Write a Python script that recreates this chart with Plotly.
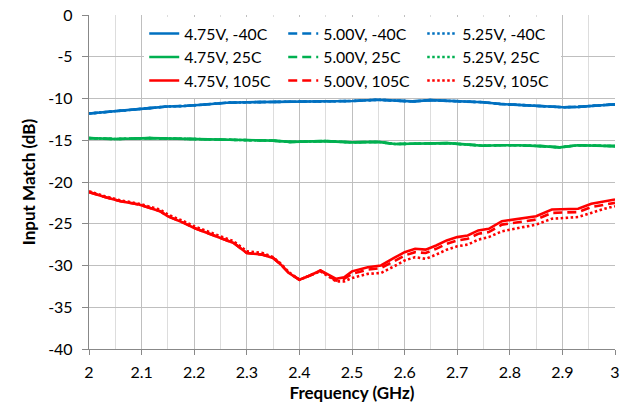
import plotly.graph_objects as go

# ---------------- data ----------------
freq_blue = [2.0, 2.04, 2.082, 2.115, 2.149, 2.18, 2.215, 2.262, 2.30, 2.349, 2.40, 2.449, 2.50, 2.549,
             2.58, 2.615, 2.649, 2.68, 2.715, 2.75, 2.782, 2.82, 2.849, 2.875, 2.902, 2.93, 2.949, 2.975, 3.0]
blue_db = [-11.8, -11.6, -11.35, -11.15, -10.95, -10.9, -10.75, -10.5, -10.45, -10.4, -10.4, -10.35, -10.3, -10.15,
           -10.25, -10.35, -10.2, -10.25, -10.35, -10.45, -10.65, -10.75, -10.85, -10.95, -11.05, -11.0, -10.95, -10.8, -10.7]

freq_green = [2.0, 2.05, 2.115, 2.15, 2.182, 2.25, 2.315, 2.35, 2.382, 2.449, 2.50, 2.55, 2.582, 2.63, 2.682,
              2.715, 2.749, 2.78, 2.815, 2.86, 2.895, 2.929, 2.96, 3.0]
green_db = [-14.75, -14.85, -14.75, -14.8, -14.85, -14.9, -15.0, -15.05, -15.2, -15.1, -15.25, -15.2, -15.45, -15.4,
            -15.35, -15.5, -15.65, -15.6, -15.6, -15.7, -15.85, -15.6, -15.65, -15.7]

freq_red = [2.00, 2.03, 2.06, 2.095, 2.135, 2.15, 2.18, 2.20, 2.25, 2.275, 2.30, 2.33, 2.35, 2.365, 2.38, 2.40,
            2.42, 2.44, 2.455, 2.47, 2.485, 2.50, 2.53, 2.555, 2.58, 2.60, 2.62, 2.64, 2.66, 2.68, 2.70, 2.72,
            2.74, 2.76, 2.785, 2.815, 2.85, 2.88, 2.93, 2.955, 2.98, 3.00]
red_475 = [-21.2, -21.8, -22.3, -22.7, -23.5, -24.1, -24.9, -25.5, -26.7, -27.3, -28.5, -28.7, -29.1, -29.9, -30.9, -31.7,
           -31.2, -30.6, -31.1, -31.6, -31.4, -30.7, -30.2, -30.0, -29.1, -28.4, -28.0, -28.1, -27.6, -27.0, -26.6, -26.4,
           -25.8, -25.6, -24.7, -24.4, -24.1, -23.3, -23.2, -22.6, -22.3, -22.1]
red_500 = [-21.2, -21.8, -22.3, -22.7, -23.5, -24.1, -24.9, -25.5, -26.7, -27.3, -28.5, -28.7, -29.1, -29.9, -30.9, -31.7,
           -31.2, -30.6, -31.2, -31.8, -31.6, -31.0, -30.5, -30.3, -29.5, -28.8, -28.4, -28.5, -28.0, -27.4, -27.0, -26.8,
           -26.2, -26.0, -25.1, -24.8, -24.5, -23.7, -23.6, -23.0, -22.7, -22.5]
red_525 = [-21.1, -21.7, -22.2, -22.6, -23.3, -23.9, -24.7, -25.3, -26.5, -27.1, -28.3, -28.5, -29.0, -29.8, -30.8, -31.7,
           -31.2, -30.7, -31.3, -31.9, -31.9, -31.5, -31.0, -30.9, -30.1, -29.4, -29.0, -29.2, -28.7, -28.1, -27.7, -27.5,
           -26.9, -26.6, -25.9, -25.5, -25.1, -24.4, -24.2, -23.7, -23.2, -22.9]

voltages = ["4.75V", "5.00V", "5.25V"]
temps = ["-40C", "25C", "105C"]

series = {
    ("4.75V", "-40C"): (freq_blue, blue_db), ("5.00V", "-40C"): (freq_blue, blue_db), ("5.25V", "-40C"): (freq_blue, blue_db),
    ("4.75V", "25C"): (freq_green, green_db), ("5.00V", "25C"): (freq_green, green_db), ("5.25V", "25C"): (freq_green, green_db),
    ("4.75V", "105C"): (freq_red, red_475), ("5.00V", "105C"): (freq_red, red_500), ("5.25V", "105C"): (freq_red, red_525),
}

x_ticks = [2, 2.1, 2.2, 2.3, 2.4, 2.5, 2.6, 2.7, 2.8, 2.9, 3]
x_tick_labels = ["2", "2.1", "2.2", "2.3", "2.4", "2.5", "2.6", "2.7", "2.8", "2.9", "3"]
y_ticks = [0, -5, -10, -15, -20, -25, -30, -35, -40]
y_tick_labels = ["0", "-5", "-10", "-15", "-20", "-25", "-30", "-35", "-40"]

# ---------------- style ----------------
colors = {"-40C": "#0070C0", "25C": "#00B050", "105C": "#FF0000"}
dashes = {"4.75V": "solid", "5.00V": "9px,5px", "5.25V": "2.5px,2.5px"}
FONT = "Lato, 'Liberation Sans', sans-serif"

fig = go.Figure()
for t in temps:
    for v in voltages:
        fx, fy = series[(v, t)]
        fig.add_trace(go.Scatter(
            x=fx, y=fy, mode="lines", name=f"{v}, {t}",
            line=dict(color=colors[t], width=2.6, dash=dashes[v]),
        ))

fig.update_layout(
    width=635, height=412,
    margin=dict(l=89, r=20, t=15, b=63, autoexpand=False),
    paper_bgcolor="white", plot_bgcolor="white",
    font=dict(family=FONT, size=16, color="#000000"),
    showlegend=True,
    legend=dict(
        orientation="h", x=0.105, y=0.995, xanchor="left", yanchor="top",
        bgcolor="white", entrywidth=94, entrywidthmode="pixels",
        font=dict(family=FONT, size=15.8), tracegroupgap=0, itemwidth=30,
    ),
)
fig.update_xaxes(
    range=[2, 3], tickvals=x_ticks, ticktext=x_tick_labels,
    showgrid=True, gridcolor="#BFBFBF", gridwidth=1,
    minor=dict(dtick=0.05, showgrid=True, gridcolor="#DDDDDD", gridwidth=1, ticks=""),
    showline=True, linecolor="#888888", linewidth=1.3,
    ticks="outside", ticklen=5, tickcolor="#888888",
    zeroline=False, automargin=False, ticklabeloverflow="allow",
    title=dict(text="<b>Frequency (GHz)</b>", font=dict(size=17), standoff=6),
    tickfont=dict(size=16), ticklabelstandoff=4,
)
fig.update_yaxes(
    range=[-40, 0], tickvals=y_ticks, ticktext=y_tick_labels,
    showgrid=True, gridcolor="#BFBFBF", gridwidth=1,
    showline=True, linecolor="#888888", linewidth=1.3,
    ticks="outside", ticklen=6, tickcolor="#888888",
    zeroline=False, automargin=False, ticklabeloverflow="allow",
    title=dict(text="<b>Input Match (dB)</b>", font=dict(size=17), standoff=8),
    tickfont=dict(size=16), ticklabelstandoff=6,
)

fig.write_html("out.html", config={"displayModeBar": False},
               post_script="document.body.style.margin='0';")
